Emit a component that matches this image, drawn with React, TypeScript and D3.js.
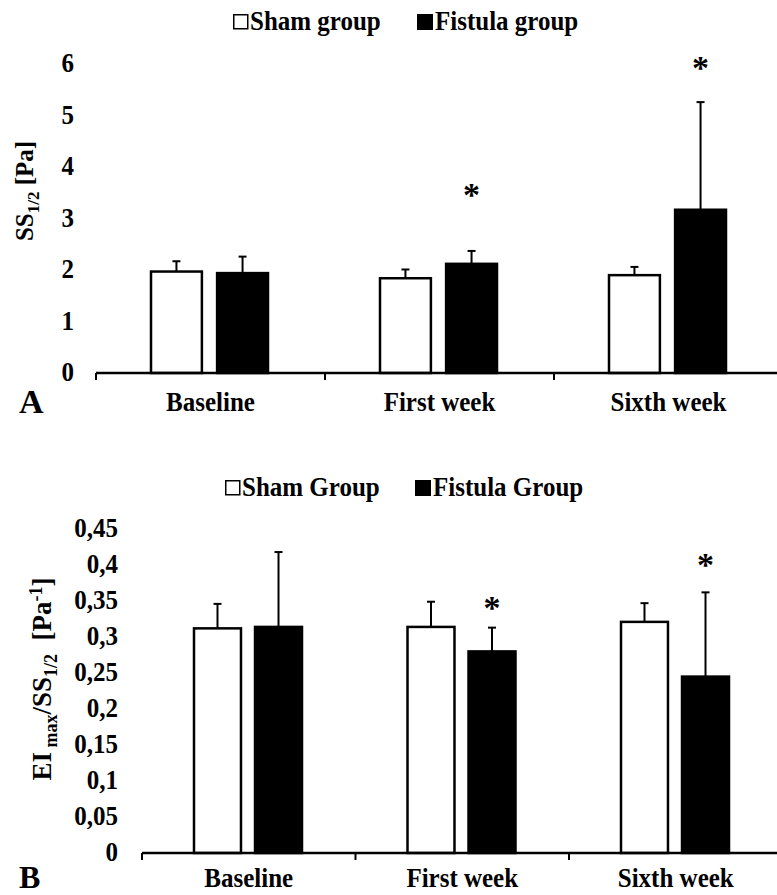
import React from "react";
import * as d3 from "d3";

const categories = ["Baseline", "First week", "Sixth week"];
const groups = ["sham", "fistula"];

// Panel A: SS1/2 [Pa]
const shamA = [1.97, 1.84, 1.9];
const shamErrA = [2.17, 2.01, 2.06];
const fistulaA = [1.94, 2.12, 3.17];
const fistulaErrA = [2.26, 2.37, 5.26];
const starsA = [null, 3.55, 6.01];
const ticksA = [0, 1, 2, 3, 4, 5, 6];

// Panel B: EImax/SS1/2 [Pa-1]
const shamB = [0.312, 0.314, 0.321];
const shamErrB = [0.346, 0.349, 0.347];
const fistulaB = [0.314, 0.28, 0.245];
const fistulaErrB = [0.418, 0.313, 0.362];
const starsB = [null, 0.347, 0.407];
const ticksB = [0, 0.05, 0.1, 0.15, 0.2, 0.25, 0.3, 0.35, 0.4, 0.45];

const FONT = "'Liberation Serif', 'Times New Roman', serif";

// bold serif text, a little taller than wide like the original figure
function Txt({ x, y, size, anchor = "start", sy = 1.1, children }: any) {
  return (
    <text
      transform={`translate(${x},${y}) scale(1,${sy})`}
      textAnchor={anchor}
      fontSize={size}
      fontWeight="bold"
      fontFamily={FONT}
    >
      {children}
    </text>
  );
}

type PanelProps = {
  sham: number[];
  shamErr: number[];
  fistula: number[];
  fistulaErr: number[];
  stars: (number | null)[];
  ticks: number[];
  yDomain: [number, number];
  yRange: [number, number];
  xStart: number;
  step: number;
  innerRange: [number, number];
  labelRight: number;
  tickFormat: (v: number) => string;
  catLabelY: number;
};

function Panel(p: PanelProps) {
  const y = d3.scaleLinear().domain(p.yDomain).range(p.yRange);
  const x0 = d3
    .scaleBand()
    .domain(categories)
    .range([p.xStart, p.xStart + p.step * categories.length])
    .padding(0);
  const x1 = d3.scaleBand().domain(groups).range(p.innerRange).paddingInner(0.23);
  const bw = x1.bandwidth();
  const y0 = y(0);

  const series = [
    { key: "sham", vals: p.sham, errs: p.shamErr, fill: "#fff" },
    { key: "fistula", vals: p.fistula, errs: p.fistulaErr, fill: "#000" },
  ];

  return (
    <g>
      {/* y tick labels */}
      {p.ticks.map((t) => (
        <Txt key={t} x={p.labelRight} y={y(t) + 8} size={25} anchor="end" sy={1.05}>
          {p.tickFormat(t)}
        </Txt>
      ))}
      {/* bars + error bars */}
      {series.map((s) =>
        categories.map((c, i) => {
          const bx = (x0(c) as number) + (x1(s.key) as number);
          const cx = bx + bw / 2;
          return (
            <g key={s.key + c}>
              <line x1={cx} x2={cx} y1={y(s.vals[i])} y2={y(s.errs[i])} stroke="#000" strokeWidth={2} />
              <line x1={cx - 4} x2={cx + 4} y1={y(s.errs[i])} y2={y(s.errs[i])} stroke="#000" strokeWidth={2} />
              <rect
                x={bx}
                y={y(s.vals[i])}
                width={bw}
                height={y0 - y(s.vals[i])}
                fill={s.fill}
                stroke="#000"
                strokeWidth={2.5}
              />
            </g>
          );
        })
      )}
      {/* asterisks */}
      {categories.map((c, i) =>
        p.stars[i] == null ? null : (
          <text
            key={"star" + c}
            x={(x0(c) as number) + (x1("fistula") as number) + bw / 2}
            y={y(p.stars[i] as number)}
            dy="0.46em"
            textAnchor="middle"
            fontSize={34}
            fontWeight="bold"
            fontFamily={FONT}
          >
            *
          </text>
        )
      )}
      {/* x axis */}
      <line x1={p.xStart} x2={p.xStart + p.step * 3} y1={y0} y2={y0} stroke="#000" strokeWidth={2.5} />
      {categories.map((c) => (
        <line key={"tick" + c} x1={x0(c) as number} x2={x0(c) as number} y1={y0} y2={y0 + 7} stroke="#000" strokeWidth={2} />
      ))}
      {categories.map((c) => (
        <Txt key={"cat" + c} x={(x0(c) as number) + x0.bandwidth() / 2} y={p.catLabelY} size={25} anchor="middle" sy={1.12}>
          {c}
        </Txt>
      ))}
    </g>
  );
}

function Legend({ y, x, gap, labels }: { y: number; x: number; gap: number; labels: string[] }) {
  return (
    <g>
      <rect x={x + 0.75} y={y - 15.25} width={14} height={14} fill="#fff" stroke="#000" strokeWidth={1.5} />
      <Txt x={x + 17} y={y} size={25} sy={1.1}>{labels[0]}</Txt>
      <rect x={x + gap} y={y - 16} width={16} height={16} fill="#000" />
      <Txt x={x + gap + 18} y={y} size={25} sy={1.1}>{labels[1]}</Txt>
    </g>
  );
}

export default function App() {
  const fmtB = (v: number) => (v === 0 ? "0" : String(+v.toFixed(2)).replace(".", ","));
  return (
    <svg
      width={777}
      height={895}
      style={{ position: "absolute", left: 0, top: 0, background: "#fff" }}
    >
      <rect width={777} height={895} fill="#fff" />
      <Legend y={30} x={233} gap={184} labels={["Sham group", "Fistula group"]} />
      <Panel
        sham={shamA}
        shamErr={shamErrA}
        fistula={fistulaA}
        fistulaErr={fistulaErrA}
        stars={starsA}
        ticks={ticksA}
        yDomain={[0, 6]}
        yRange={[373, 64]}
        xStart={96}
        step={229}
        innerRange={[55, 172]}
        labelRight={74}
        tickFormat={(v) => String(v)}
        catLabelY={411}
      />
      <text x={19} y={413} fontSize={34} fontWeight="bold" fontFamily={FONT}>A</text>
      <text
        transform="translate(33,191) rotate(-90)"
        textAnchor="middle"
        fontSize={25}
        fontWeight="bold"
        fontFamily={FONT}
      >
        SS<tspan fontSize={17} dy={6}>1/2</tspan>
        <tspan dy={-6}> [Pa]</tspan>
      </text>

      <Legend y={496} x={225} gap={190} labels={["Sham Group", "Fistula Group"]} />
      <Panel
        sham={shamB}
        shamErr={shamErrB}
        fistula={fistulaB}
        fistulaErr={fistulaErrB}
        stars={starsB}
        ticks={ticksB}
        yDomain={[0, 0.45]}
        yRange={[853, 529]}
        xStart={142}
        step={213.5}
        innerRange={[52, 160]}
        labelRight={118}
        tickFormat={fmtB}
        catLabelY={887}
      />
      <text x={19} y={888} fontSize={32} fontWeight="bold" fontFamily={FONT}>B</text>
      <text
        transform="translate(51,679) rotate(-90)"
        textAnchor="middle"
        fontSize={27}
        fontWeight="bold"
        fontFamily={FONT}
      >
        EI<tspan fontSize={18} dy={6}> max</tspan>
        <tspan dy={-6}>/SS</tspan>
        <tspan fontSize={18} dy={6}>1/2</tspan>
        <tspan dy={-6}>{"\u00a0\u00a0[Pa"}</tspan>
        <tspan fontSize={18} dy={-9}>-1</tspan>
        <tspan dy={9}>]</tspan>
      </text>
    </svg>
  );
}
